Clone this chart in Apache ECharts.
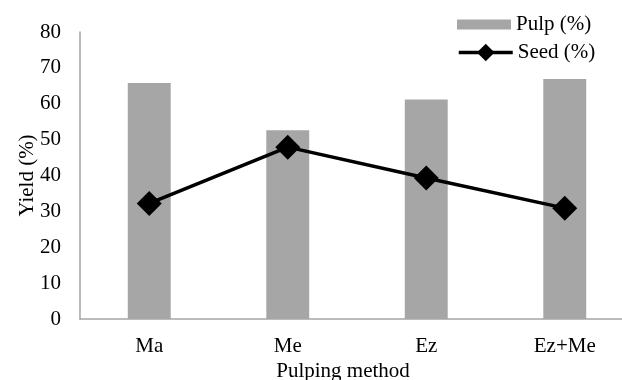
<!DOCTYPE html>
<html>
<head>
<meta charset="utf-8">
<script src="https://cdn.jsdelivr.net/npm/echarts@6/dist/echarts.min.js"></script>
<style>
  html, body { margin: 0; padding: 0; background: #fff; }
  #chart { width: 622px; height: 380px; }
</style>
</head>
<body>
<div id="chart"></div>
<script>
// Yield by pulping method
const categories = ['Ma', 'Me', 'Ez', 'Ez+Me'];
const pulpYield = [65.8, 52.6, 61.2, 66.9];
const seedYield = [32.2, 47.9, 39.3, 30.9];
const yTicks = { min: 0, max: 80, interval: 10 };

const FONT = '"Liberation Serif", "Times New Roman", serif';
const FS = 21;
const chart = echarts.init(document.getElementById('chart'), null, { renderer: 'canvas' });

const legendText = { fontFamily: FONT, fontSize: FS, color: '#000' };

chart.setOption({
  animation: false,
  backgroundColor: '#ffffff',
  textStyle: { fontFamily: FONT, color: '#000' },
  grid: { left: 80, top: 32, bottom: 61, width: 554, containLabel: false, outerBoundsMode: 'none' },
  legend: [
    {
      left: 452,
      top: 9,
      itemWidth: 54,
      itemHeight: 10,
      textStyle: legendText,
      data: [{ name: 'Pulp (%)', icon: 'rect' }]
    },
    {
      left: 452,
      top: 37,
      itemWidth: 54,
      itemHeight: 22,
      textStyle: legendText,
      lineStyle: { width: 3.5 },
      data: [{ name: 'Seed (%)' }]
    }
  ],
  xAxis: {
    type: 'category',
    data: categories,
    name: 'Pulping method',
    nameLocation: 'middle',
    nameGap: 42,
    nameMoveOverlap: false,
    nameTextStyle: { fontFamily: FONT, fontSize: FS, color: '#000', padding: [0, 28, 0, 0] },
    axisLine: { lineStyle: { color: '#a6a6a6', width: 1.5 } },
    axisTick: { show: false },
    axisLabel: { fontFamily: FONT, fontSize: FS, color: '#000', margin: 17 }
  },
  yAxis: {
    type: 'value',
    min: yTicks.min,
    max: yTicks.max,
    interval: yTicks.interval,
    name: 'Yield (%)',
    nameLocation: 'middle',
    nameGap: 42,
    nameMoveOverlap: false,
    nameTextStyle: { fontFamily: FONT, fontSize: FS, color: '#000' },
    axisLine: { show: true, lineStyle: { color: '#a6a6a6', width: 1.5 } },
    axisTick: { show: false },
    splitLine: { show: false },
    axisLabel: { fontFamily: FONT, fontSize: FS, color: '#000', margin: 19 }
  },
  series: [
    {
      name: 'Pulp (%)',
      type: 'bar',
      data: pulpYield,
      barWidth: '31%',
      itemStyle: { color: '#a6a6a6' }
    },
    {
      name: 'Seed (%)',
      type: 'line',
      data: seedYield,
      symbol: 'diamond',
      symbolSize: 25,
      lineStyle: { color: '#000', width: 3.5 },
      itemStyle: { color: '#000' },
      z: 5
    }
  ]
});
</script>
</body>
</html>
